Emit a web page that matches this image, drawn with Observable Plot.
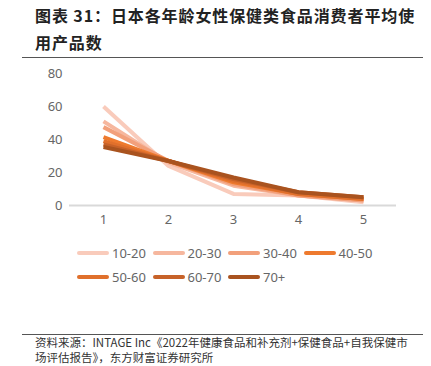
<!DOCTYPE html>
<html><head><meta charset="utf-8">
<script src="https://cdn.jsdelivr.net/npm/d3@7"></script>
<script src="https://cdn.jsdelivr.net/npm/@observablehq/plot@0.6"></script>
<style>
body{margin:0;width:431px;height:366px;background:#fff;position:relative;overflow:hidden;font-family:"Noto Sans CJK SC","Noto Sans",sans-serif;}
#title{position:absolute;left:35px;top:2px;font-size:16px;font-weight:bold;line-height:27px;letter-spacing:0.9px;color:#222;white-space:nowrap;}
.hr{position:absolute;left:22px;width:401px;height:0;border-top:1.5px solid #555;}
#chart{position:absolute;left:0;top:60px;}
#legend{position:absolute;left:77px;top:241px;width:330px;font-family:"Noto Sans",sans-serif;font-size:13px;color:#666;}
.item{display:inline-flex;align-items:center;width:75.5px;height:23px;white-space:nowrap;}
.sw{display:inline-block;width:32px;height:4px;border-radius:2px;margin-right:3px;}
#foot{position:absolute;left:35px;top:335px;font-size:11.5px;color:#333;white-space:nowrap;}
#foot div{height:15px;line-height:15px;}
</style></head>
<body>
<div id="title">图表 31：日本各年龄女性保健类食品消费者平均使<br>用产品数</div>
<div class="hr" style="top:57px"></div>
<div id="chart"></div>
<div id="legend"></div>
<div class="hr" style="top:334px"></div>
<div id="foot"><div>资料来源：INTAGE Inc《2022年健康食品和补充剂+保健食品+自我保健市</div><div>场评估报告》，东方财富证券研究所</div></div>
<script>
const categories = [1, 2, 3, 4, 5];
const seriesNames = ["10-20", "20-30", "30-40", "40-50", "50-60", "60-70", "70+"];
const v10_20 = [60, 24, 7, 6, 2];
const v20_30 = [51, 26, 12, 6, 3];
const v30_40 = [47.5, 27, 13, 6, 3];
const v40_50 = [41.5, 27, 14, 7, 4];
const v50_60 = [39, 27, 15, 7, 4];
const v60_70 = [37, 27, 16, 8, 5];
const v70p = [35.5, 27, 17, 8, 5];
const yTicks = [0, 20, 40, 60, 80];
const colors = ["#f9cbbb", "#f6b79e", "#f2a07b", "#ee7a2e", "#e0702c", "#c76229", "#a9531f"];

const allValues = [v10_20, v20_30, v30_40, v40_50, v50_60, v60_70, v70p];
const data = [];
seriesNames.forEach((s, i) => categories.forEach((c, j) => data.push({series: s, x: c, y: allValues[i][j]})));

const chart = Plot.plot({
  width: 431,
  height: 170,
  marginLeft: 69,
  marginRight: 35,
  marginTop: 13,
  marginBottom: 25,
  style: {fontFamily: "'Noto Sans', sans-serif", fontSize: "13px", color: "#666", background: "transparent"},
  x: {type: "point", domain: categories, padding: 0.5, label: null},
  y: {domain: [0, 80], ticks: yTicks, label: null},
  color: {domain: seriesNames, range: colors},
  marks: [
    Plot.ruleY([0], {stroke: "#d9d9d9", strokeWidth: 2}),
    Plot.axisY({ticks: yTicks, tickSize: 0, tickPadding: 7, label: null, fill: "#666"}),
    Plot.axisX({tickSize: 0, tickPadding: 9, label: null, fill: "#666"}),
    Plot.line(data, {x: "x", y: "y", z: "series", stroke: "series", strokeWidth: 4, strokeLinejoin: "miter", strokeLinecap: "butt"})
  ]
});
document.getElementById("chart").appendChild(chart);

const lg = document.getElementById("legend");
seriesNames.forEach((s, i) => {
  const it = document.createElement("span");
  it.className = "item";
  it.innerHTML = `<span class="sw" style="background:${colors[i]}"></span>${s}`;
  lg.appendChild(it);
});
</script>
</body></html>
